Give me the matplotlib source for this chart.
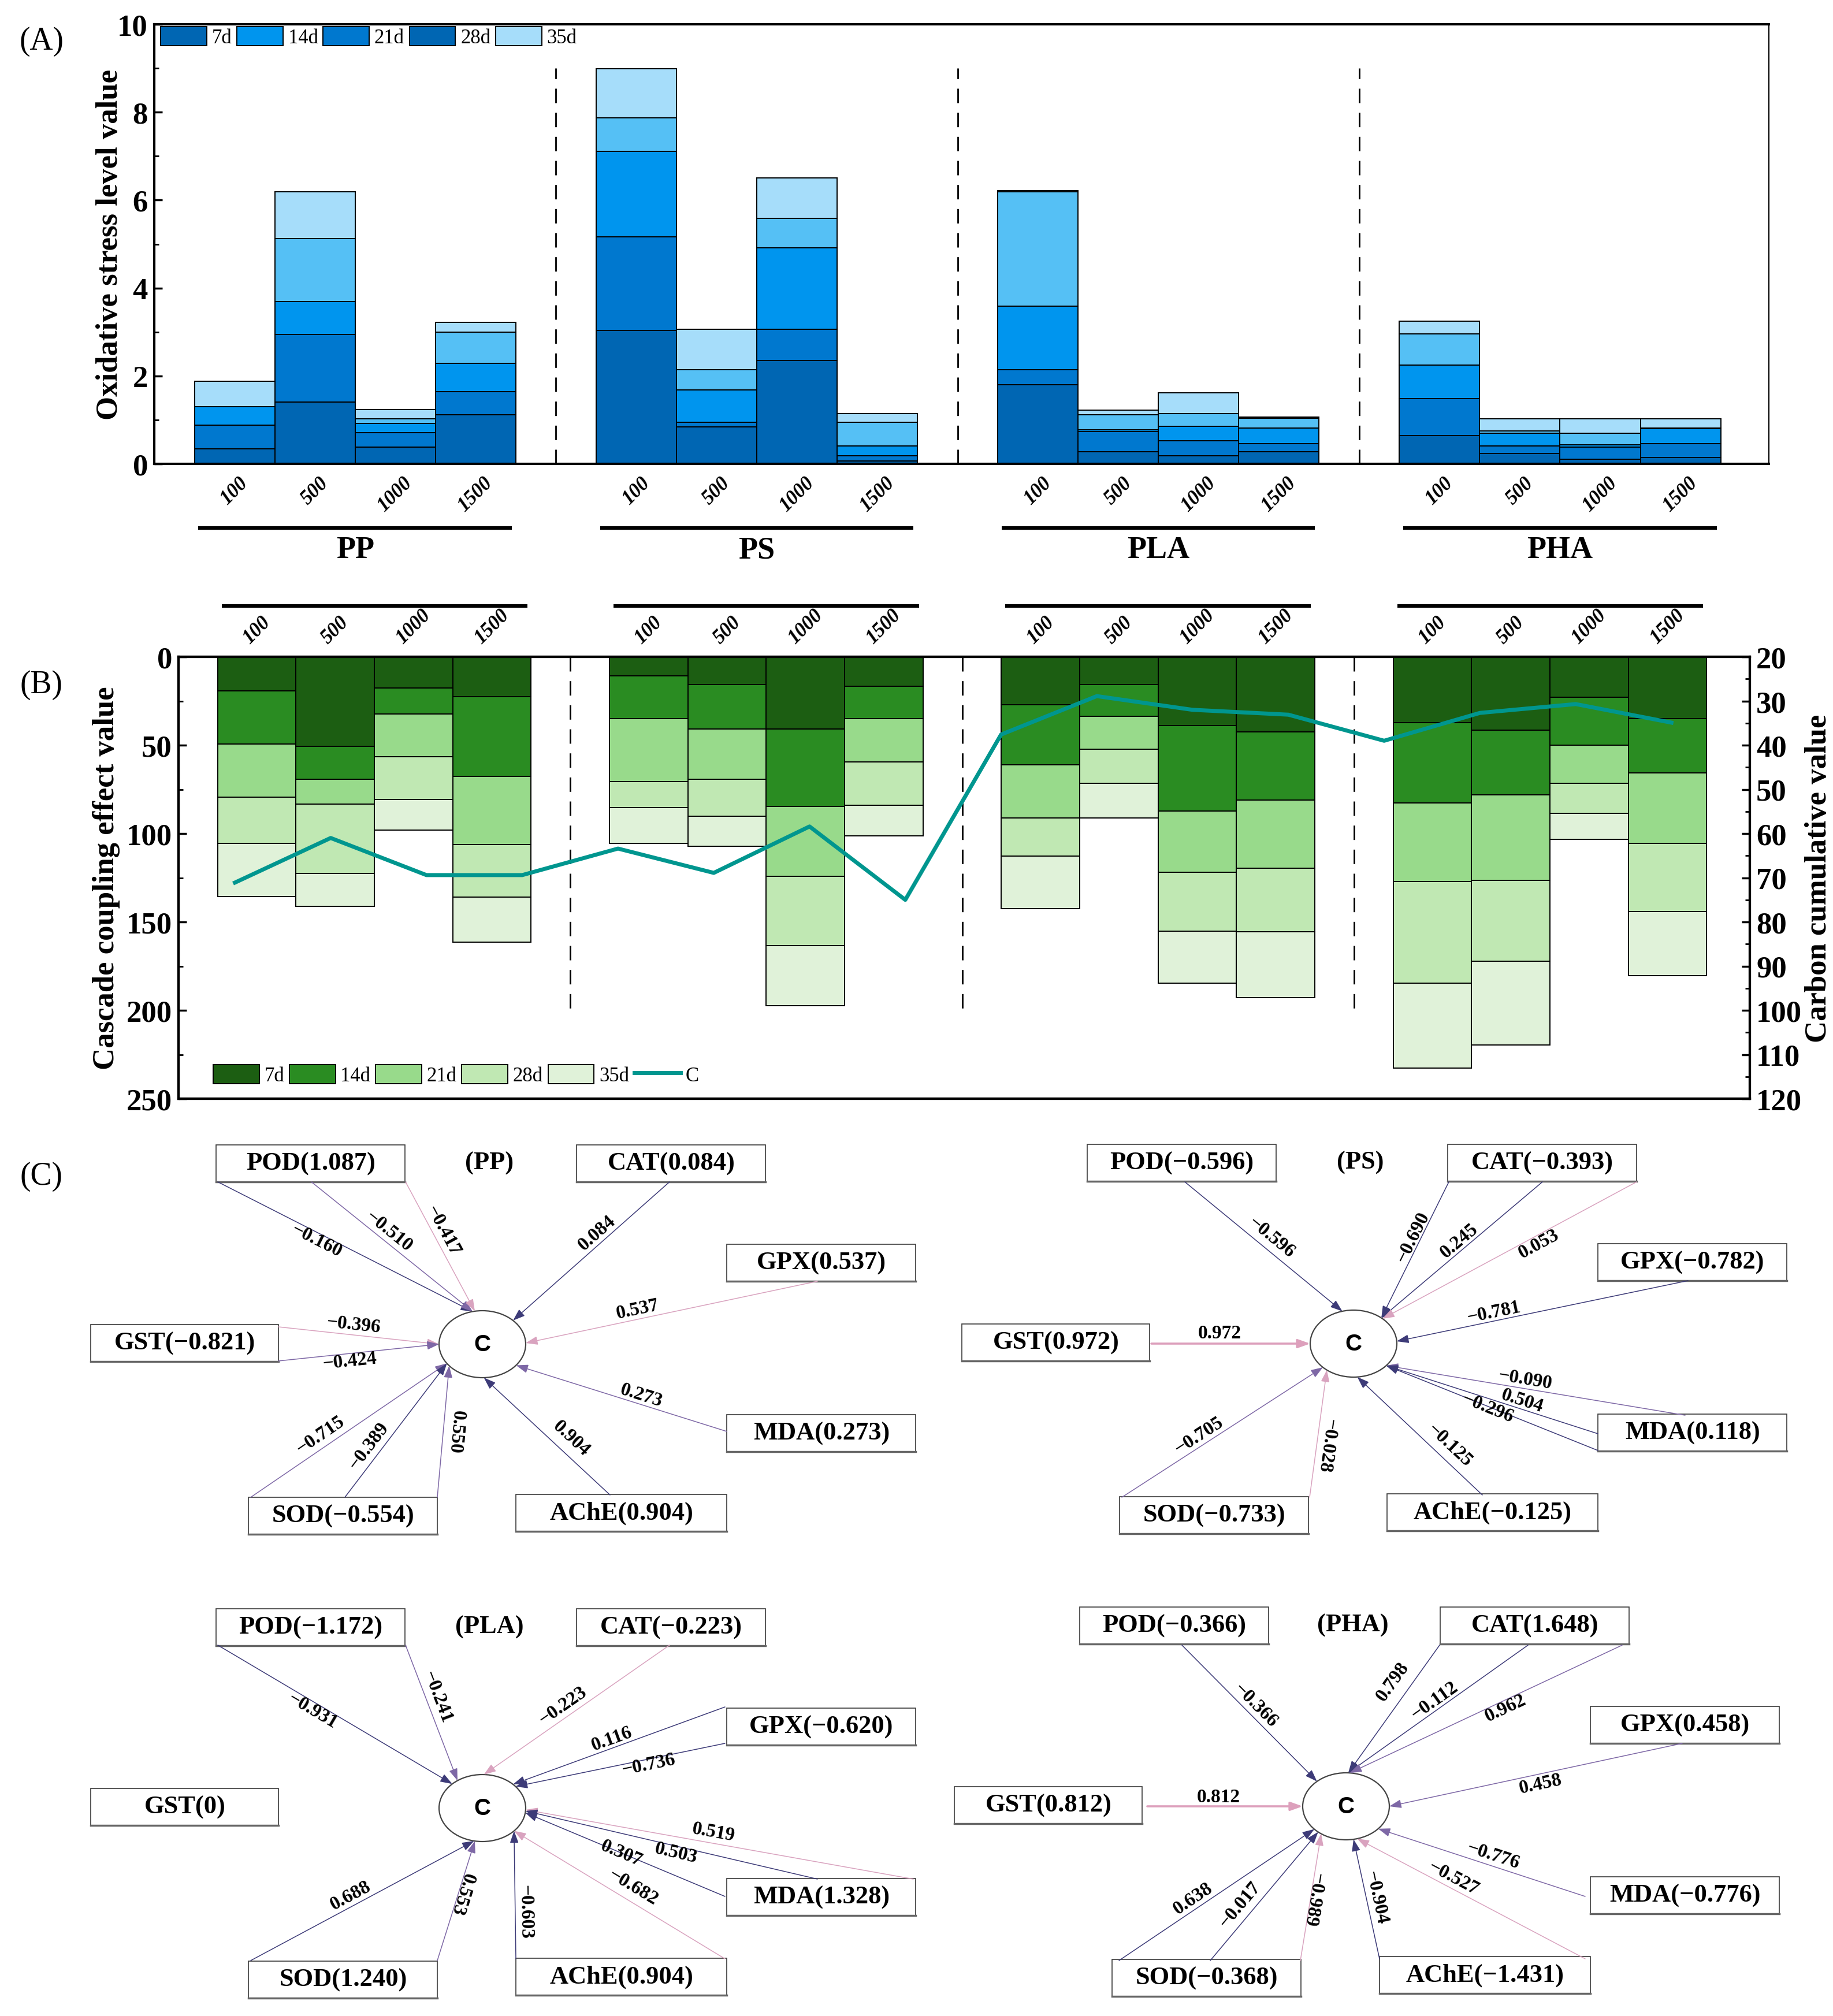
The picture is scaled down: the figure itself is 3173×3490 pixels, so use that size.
import numpy as np
import matplotlib
matplotlib.use('Agg')
import matplotlib.pyplot as plt
from matplotlib.patches import Patch, Rectangle, Ellipse
from matplotlib.lines import Line2D
from matplotlib.ticker import MultipleLocator
import matplotlib.transforms as mtrans

plt.rcParams['font.family'] = ['Liberation Serif', 'DejaVu Serif']

# ---------------- data ----------------
POLYMERS = ['PP', 'PS', 'PLA', 'PHA']
CONCS = ['100', '500', '1000', '1500']
DAYS = ['7d', '14d', '21d', '28d', '35d']

# Panel A: oxidative stress level value (stacked segments, bars PP100..PHA1500)
oxi_7d  = [0.34, 1.41, 0.38, 1.12, 3.04, 0.84, 2.35, 0.07, 1.80, 0.27, 0.18, 0.27, 0.65, 0.23, 0.10, 0.14]
oxi_14d = [0.54, 1.53, 0.33, 0.52, 2.12, 0.10, 0.71, 0.12, 0.34, 0.46, 0.34, 0.19, 0.84, 0.18, 0.28, 0.32]
oxi_21d = [0.42, 0.75, 0.21, 0.65, 1.95, 0.74, 1.85, 0.22, 1.45, 0.05, 0.34, 0.36, 0.76, 0.28, 0.06, 0.34]
oxi_28d = [0.00, 1.44, 0.10, 0.70, 0.76, 0.46, 0.68, 0.53, 2.60, 0.34, 0.28, 0.22, 0.71, 0.06, 0.26, 0.02]
oxi_35d = [0.58, 1.06, 0.21, 0.23, 1.12, 0.92, 0.92, 0.20, 0.02, 0.10, 0.48, 0.03, 0.29, 0.27, 0.32, 0.20]

# Panel B: cascade coupling effect value (stacked segments)
casc_7d  = [19.2, 50.5, 17.8, 22.4, 10.9, 15.8, 40.8, 16.6, 27.1, 15.8, 38.8, 42.6, 37.4, 41.4, 23.0, 35.1]
casc_14d = [30.1, 18.8, 14.5, 45.2, 24.2, 25.0, 44.0, 18.3, 34.1, 17.7, 48.4, 38.6, 45.4, 36.8, 26.9, 30.7]
casc_21d = [30.1, 13.9, 24.2, 38.6, 35.6, 28.5, 39.4, 24.7, 29.9, 18.8, 34.6, 38.4, 44.2, 48.2, 21.6, 39.8]
casc_28d = [26.0, 39.2, 24.1, 29.7, 14.5, 21.0, 39.2, 24.4, 21.6, 19.2, 33.3, 36.1, 57.6, 45.7, 16.9, 38.4]
casc_35d = [30.1, 18.8, 17.5, 25.5, 20.2, 16.9, 34.1, 17.4, 29.7, 19.6, 29.5, 37.2, 48.2, 47.6, 14.8, 36.3]
carbon_C = [71.1, 61.0, 69.4, 69.4, 63.4, 68.9, 58.4, 75.0, 37.6, 28.9, 32.0, 33.1, 39.0, 32.7, 30.7, 34.9]

# Panel C: node values
NODE_NAMES = ['POD', 'CAT', 'GPX', 'GST', 'MDA', 'SOD', 'AChE']
node_PP  = [1.087, 0.084, 0.537, -0.821, 0.273, -0.554, 0.904]
node_PS  = [-0.596, -0.393, -0.782, 0.972, 0.118, -0.733, -0.125]
node_PLA = [-1.172, -0.223, -0.620, 0, 1.328, 1.240, 0.904]
node_PHA = [-0.366, 1.648, 0.458, 0.812, -0.776, -0.368, -1.431]

# Panel C: edges (source, weight)
edge_src_PP = ['POD', 'POD', 'POD', 'CAT', 'GPX', 'GST', 'GST', 'MDA', 'SOD', 'SOD', 'SOD', 'AChE']
edge_w_PP   = [-0.160, -0.510, -0.417, 0.084, 0.537, -0.396, -0.424, 0.273, -0.715, -0.389, 0.550, 0.904]
edge_src_PS = ['POD', 'CAT', 'CAT', 'CAT', 'GPX', 'GST', 'MDA', 'MDA', 'MDA', 'SOD', 'SOD', 'AChE']
edge_w_PS   = [-0.596, -0.690, 0.245, 0.053, -0.781, 0.972, -0.090, 0.504, -0.296, -0.705, -0.028, -0.125]
edge_src_PLA = ['POD', 'POD', 'CAT', 'GPX', 'GPX', 'MDA', 'MDA', 'MDA', 'SOD', 'SOD', 'AChE', 'AChE']
edge_w_PLA   = [-0.931, -0.241, -0.223, 0.116, -0.736, 0.519, 0.503, 0.307, 0.688, 0.553, -0.603, -0.682]
edge_src_PHA = ['POD', 'CAT', 'CAT', 'CAT', 'GPX', 'GST', 'MDA', 'SOD', 'SOD', 'SOD', 'AChE', 'AChE']
edge_w_PHA   = [-0.366, 0.798, -0.112, 0.962, 0.458, 0.812, -0.776, 0.638, -0.017, -0.989, -0.904, -0.527]

# ---------------- styles / layout ----------------
W, H = 3173, 3491
BAR_COLORS_A = ['#0066B3', '#0078CF', '#0095EE', '#55C0F5', '#A6DDFA']
LEGEND_COLORS_A = ['#0066B3', '#0095EE', '#0078CF', '#0066B3', '#A6DDFA']
BAR_COLORS_B = ['#1C5E12', '#2A8C22', '#98DA8B', '#C0E8B3', '#E0F2D9']
LINE_COLOR = '#00968F'
EDGE_COLORS = {'n': '#3D3B78', 'u': '#7E68A6', 'p': '#D9A3BF', 'P': '#DDA0BC'}

fig = plt.figure(figsize=(W / 100, H / 100), dpi=100)

x = np.array([g * 5 + i for g in range(4) for i in range(4)], dtype=float)
tick_labels = CONCS * 4


def px_axes(l, t, r, b):
    return [l / W, 1 - b / H, (r - l) / W, (b - t) / H]


def bold_ticks(ax, axis='y'):
    labels = ax.get_yticklabels() if axis == 'y' else ax.get_xticklabels()
    for lb in labels:
        lb.set_fontweight('bold')


# ---------------- Panel A ----------------
axA = fig.add_axes(px_axes(267, 43, 3062, 804))
oxi = [oxi_7d, oxi_14d, oxi_21d, oxi_28d, oxi_35d]
bottom = np.zeros(16)
for vals, col in zip(oxi, BAR_COLORS_A):
    v = np.array(vals)
    axA.bar(x, v, width=1.0, bottom=bottom, color=col, edgecolor='black', linewidth=1.4, zorder=2)
    bottom += v
axA.set_xlim(-1.0, 19.1)
axA.set_ylim(0, 10)
for xd in [4, 9, 14]:
    axA.plot([xd, xd], [0, 9], color='black', ls=(0, (9, 6)), lw=2, zorder=1)
axA.yaxis.set_major_locator(MultipleLocator(2))
axA.yaxis.set_minor_locator(MultipleLocator(1))
axA.tick_params(axis='y', which='major', direction='in', length=10, width=2.5, labelsize=38, pad=8)
axA.tick_params(axis='y', which='minor', direction='in', length=6, width=2)
bold_ticks(axA)
axA.set_xticks(x)
axA.set_xticklabels(tick_labels, rotation=45, ha='center', va='top', fontsize=25,
                    fontweight='bold', fontstyle='italic')
axA.tick_params(axis='x', length=0, pad=12)
for s in ['left', 'bottom', 'top']:
    axA.spines[s].set_linewidth(3)
axA.spines['right'].set_linewidth(1.5)
axA.set_ylabel('Oxidative stress level value', fontsize=38, fontweight='bold')
axA.yaxis.set_label_coords(-0.019, 0.5)
transA = mtrans.blended_transform_factory(axA.transData, axA.transAxes)
for g, name in enumerate(POLYMERS):
    axA.plot([g * 5 - 0.45, g * 5 + 3.45], [-0.146, -0.146], transform=transA, color='black',
             lw=4.5, clip_on=False, solid_capstyle='butt')
    axA.text(g * 5 + 1.5, -0.196, name, transform=transA, ha='center', va='center',
             fontsize=39, fontweight='bold')
handlesA = [Patch(facecolor=c, edgecolor='black', linewidth=1.4) for c in LEGEND_COLORS_A]
axA.legend(handlesA, DAYS, ncol=5, loc='upper left', bbox_to_anchor=(0.004, 0.995), frameon=False,
           fontsize=25, handlelength=2.3, handleheight=1.1, columnspacing=0.25, handletextpad=0.25,
           borderaxespad=0, borderpad=0)

# ---------------- Panel B ----------------
axB = fig.add_axes(px_axes(309, 1138, 3029, 1903))
casc = [casc_7d, casc_14d, casc_21d, casc_28d, casc_35d]
bottom = np.zeros(16)
for vals, col in zip(casc, BAR_COLORS_B):
    v = np.array(vals)
    axB.bar(x, v, width=1.0, bottom=bottom, color=col, edgecolor='black', linewidth=1.4, zorder=2)
    bottom += v
axB.set_xlim(-1.0, 19.05)
axB.set_ylim(250, 0)
for xd in [4, 9, 14]:
    axB.plot([xd, xd], [0, 202], color='black', ls=(0, (9, 6)), lw=2, zorder=1)
axB.yaxis.set_major_locator(MultipleLocator(50))
axB.yaxis.set_minor_locator(MultipleLocator(25))
axB.tick_params(axis='y', which='major', direction='in', length=10, width=2.5, labelsize=38, pad=8)
axB.tick_params(axis='y', which='minor', direction='in', length=6, width=2)
bold_ticks(axB)
axB.xaxis.tick_top()
axB.set_xticks(x)
axB.set_xticklabels(tick_labels, rotation=45, ha='center', va='bottom', fontsize=25,
                    fontweight='bold', fontstyle='italic')
axB.tick_params(axis='x', length=0, pad=12)
for s in axB.spines.values():
    s.set_linewidth(3)
axB.set_ylabel('Cascade coupling effect value', fontsize=38, fontweight='bold')
axB.yaxis.set_label_coords(-0.037, 0.5)
transB = mtrans.blended_transform_factory(axB.transData, axB.transAxes)
for g in range(4):
    axB.plot([g * 5 - 0.45, g * 5 + 3.45], [1.115, 1.115], transform=transB, color='black',
             lw=4.5, clip_on=False, solid_capstyle='butt')

ax2 = axB.twinx()
ax2.set_ylim(120, 20)
x_line = np.linspace(-0.28, 18.05, len(carbon_C))
ax2.plot(x_line, carbon_C, color=LINE_COLOR, lw=5, zorder=5)
ax2.yaxis.set_major_locator(MultipleLocator(10))
ax2.yaxis.set_minor_locator(MultipleLocator(5))
ax2.tick_params(axis='y', which='major', direction='in', length=10, width=2.5, labelsize=38, pad=8)
ax2.tick_params(axis='y', which='minor', direction='in', length=6, width=2)
bold_ticks(ax2)
ax2.set_ylabel('Carbon cumulative value', fontsize=38, fontweight='bold')
ax2.yaxis.set_label_coords(1.035, 0.5)
for s in ax2.spines.values():
    s.set_linewidth(3)

handlesB = [Patch(facecolor=c, edgecolor='black', linewidth=1.4) for c in BAR_COLORS_B]
handlesB.append(Line2D([0], [0], color=LINE_COLOR, lw=5))
ax2.legend(handlesB, DAYS + ['C'], ncol=6, loc='lower left', bbox_to_anchor=(0.022, 0.03),
           frameon=False, fontsize=25, handlelength=2.3, handleheight=1.1, columnspacing=0.25,
           handletextpad=0.25, borderaxespad=0, borderpad=0)

# ---------------- Panel C (networks) ----------------
axC = fig.add_axes([0, 0, 1, 1], zorder=-1)
axC.set_xlim(0, W)
axC.set_ylim(H, 0)
axC.axis('off')
axC.patch.set_visible(False)

for lbl, yy in [('(A)', 72), ('(B)', 1186), ('(C)', 2037)]:
    axC.text(72, yy, lbl, ha='center', va='center', fontsize=40)

BOX_LAYOUT = {  # dx, dy (image coords relative to C), width, height
    'POD': (-297, -313, 327, 64), 'CAT': (327, -313, 327, 64), 'GPX': (587, -141, 327, 64),
    'GST': (-515, -2, 325, 64), 'MDA': (587, 154, 327, 64), 'SOD': (-241, 297, 327, 64),
    'AChE': (241, 292, 365, 64),
}
RX, RY = 75, 58

# per-edge: start dx, start dy, end angle on ellipse, label fraction, label offset, colour
LAYOUT_PP = [(-458, -281, 103, 0.40, -12, 'n'), (-296, -281, 103, 0.44, 18, 'u'),
             (-133, -281, 100, 0.41, 18, 'p'), (324, -281, 45, 0.42, 18, 'n'),
             (580, -109, 2, 0.61, 18, 'p'), (-353, -30, 180, 0.46, 18, 'p'),
             (-353, 29, 180, 0.44, -12, 'u'), (423, 151, -39, 0.42, 16, 'u'),
             (-401, 265, -145, 0.39, 22, 'u'), (-238, 265, -145, 0.33, 22, 'n'),
             (-78, 265, -140, 0.51, 22, 'u'), (221, 261, -88, 0.39, 26, 'n')]
LAYOUT_PS = [(-292, -280, 105, 0.50, 22, 'n'), (165, -280, 50, 0.43, 14, 'n'),
             (327, -280, 50, 0.48, 16, 'n'), (490, -280, 48, 0.40, -14, 'p'),
             (579, -109, 4, 0.66, 16, 'n'), (-350, 0, 180, 0.43, 18, 'P'),
             (574, 124, -41, 0.54, 16, 'u'), (423, 156, -41, 0.37, 15, 'n'),
             (423, 185, -41, 0.52, -2, 'n'), (-401, 266, -135, 0.41, 18, 'u'),
             (-76, 266, -128, 0.42, 18, 'p'), (223, 262, -85, 0.34, 24, 'n')]
LAYOUT_PLA = [(-458, -282, 134, 0.42, -13, 'n'), (-133, -282, 125, 0.41, 19, 'u'),
              (324, -282, 88, 0.54, 20, 'p'), (420, -175, 45, 0.52, 16, 'n'),
              (420, -112, 40, 0.37, -9, 'n'), (746, 123, -3, 0.52, 20, 'p'),
              (580, 123, -5, 0.48, -11, 'n'), (420, 153, -8, 0.52, 0, 'n'),
              (-401, 264, -101, 0.47, 18, 'n'), (-78, 264, -100, 0.57, 7, 'u'),
              (58, 261, -43, 0.37, 18, 'n'), (420, 261, -43, 0.47, 24, 'p')]
LAYOUT_PHA = [(-284, -279, 132, 0.49, 18, 'n'), (162, -279, 87, 0.36, 30, 'n'),
              (315, -279, 87, 0.49, 16, 'n'), (478, -279, 85, 0.44, -12, 'u'),
              (582, -109, 0, 0.49, -17, 'u'), (-344, 0, 180, 0.46, 16, 'P'),
              (414, 156, -42, 0.46, 18, 'u'), (-393, 267, -137, 0.41, 18, 'n'),
              (-235, 267, -130, 0.37, 24, 'n'), (-79, 267, -125, 0.49, 5, 'p'),
              (58, 264, -80, 0.50, 17, 'n'), (414, 264, -75, 0.60, 18, 'p')]


def fmt(v):
    return '0' if v == 0 else f'{v:.3f}'.replace('-', '\u2212')


def draw_network(cx, cy, title, node_vals, srcs, weights, layout):
    for name, val in zip(NODE_NAMES, node_vals):
        dx, dy, bw, bh = BOX_LAYOUT[name]
        x0, y0 = cx + dx - bw / 2, cy + dy - bh / 2
        axC.add_patch(Rectangle((x0, y0), bw, bh, facecolor='white', edgecolor='#3a3a3a', lw=1.2))
        axC.plot([x0, x0 + bw], [y0 + bh, y0 + bh], color='#666666', lw=2.5)
        axC.text(cx + dx, cy + dy, f'{name}({fmt(val)})', ha='center', va='center',
                 fontsize=32, fontweight='bold')
    axC.text(cx + 12, cy - 314, f'({title})', ha='center', va='center', fontsize=32, fontweight='bold')
    axC.add_patch(Ellipse((cx, cy), 2 * RX, 2 * RY, facecolor='white', edgecolor='#444444', lw=1.6))
    axC.text(cx, cy, 'C', ha='center', va='center', fontsize=29, fontweight='bold',
             family='Liberation Sans')
    for src, w, (sx, sy, ang, t, off, ck) in zip(srcs, weights, layout):
        x1, y1 = cx + sx, cy + sy
        a = np.radians(ang)
        x2, y2 = cx + RX * np.cos(a), cy - RY * np.sin(a)
        lw = 2.6 if ck == 'P' else 1.1
        col = EDGE_COLORS[ck]
        axC.annotate('', xy=(x2, y2), xytext=(x1, y1),
                     arrowprops=dict(arrowstyle='-|>,head_length=0.7,head_width=0.25', color=col,
                                     lw=lw, shrinkA=0, shrinkB=0, mutation_scale=18))
        phi = np.degrees(np.arctan2(-(y2 - y1), x2 - x1))
        while phi > 70:
            phi -= 180
        while phi <= -110:
            phi += 180
        ux, uy = -np.sin(np.radians(phi)), -np.cos(np.radians(phi))
        lx = x1 + t * (x2 - x1) + off * ux
        ly = y1 + t * (y2 - y1) + off * uy
        axC.text(lx, ly, fmt(w), ha='center', va='center', rotation=phi, rotation_mode='anchor',
                 fontsize=24, fontweight='bold')


draw_network(835, 2328, 'PP', node_PP, edge_src_PP, edge_w_PP, LAYOUT_PP)
draw_network(2343, 2327, 'PS', node_PS, edge_src_PS, edge_w_PS, LAYOUT_PS)
draw_network(835, 3131, 'PLA', node_PLA, edge_src_PLA, edge_w_PLA, LAYOUT_PLA)
draw_network(2330, 3128, 'PHA', node_PHA, edge_src_PHA, edge_w_PHA, LAYOUT_PHA)

fig.savefig('out.png', dpi=100)
